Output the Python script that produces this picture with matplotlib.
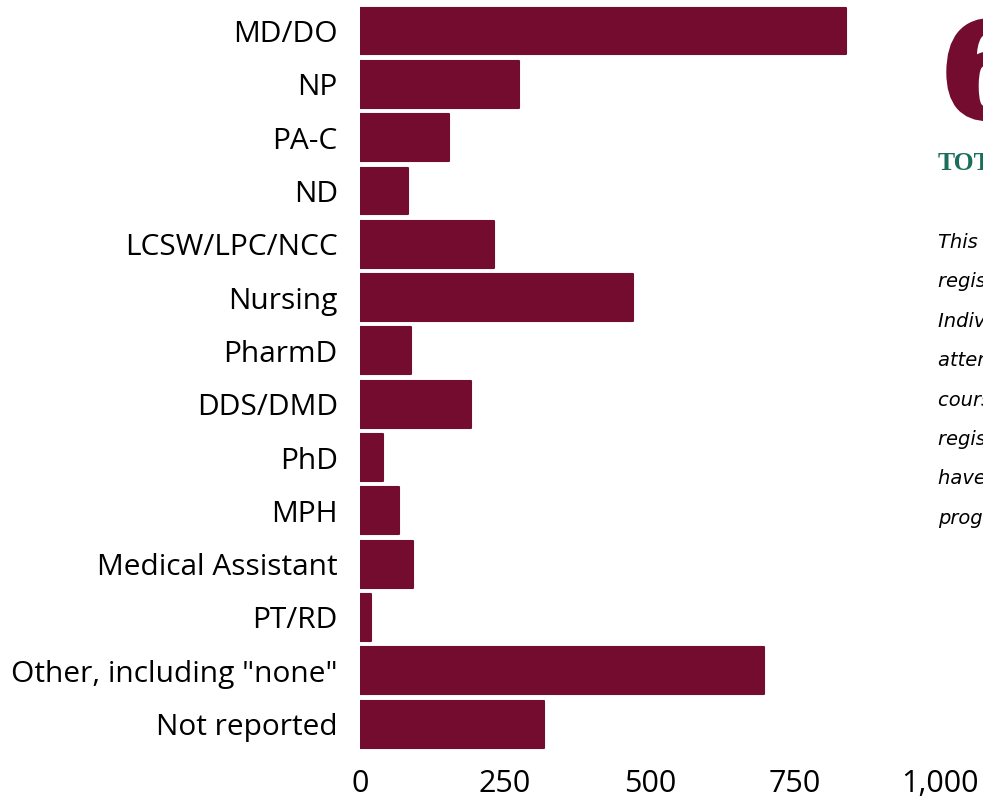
import matplotlib
matplotlib.use("Agg")
import matplotlib.pyplot as plt
import matplotlib.patheffects as pe
from matplotlib.ticker import FuncFormatter

# données
categories = ["MD/DO", "NP", "PA-C", "ND", "LCSW/LPC/NCC", "Nursing", "PharmD",
              "DDS/DMD", "PhD", "MPH", "Medical Assistant", "PT/RD",
              'Other, including "none"', "Not reported"]
counts = [838, 274, 153, 83, 231, 471, 88, 191, 39, 67, 92, 19, 697, 317]
xticks = [0, 250, 500, 750, 1000]

big_number = "6"
total_label = "TOTAL"
note_lines = ["This chart shows", "registrants by", "Individuals who",
              "attended the", "course and", "registered may",
              "have completed", "programs."]

maroon = "#730c2e"
green = "#1b6e5c"

plt.rcParams['font.family'] = ['Open Sans', 'DejaVu Sans']

fig = plt.figure(figsize=(9.83, 7.97), dpi=100)
ax = fig.add_axes([0.3662, 0.058, 0.59, 0.9365])

ypos = list(range(len(categories)))
ax.barh(ypos, counts, height=0.88, color=maroon, edgecolor=maroon,
        linewidth=1.5, joinstyle="round")
ax.set_ylim(len(categories) - 0.5, -0.5)
ax.set_xlim(0, 1000)
ax.set_yticks(ypos)
ax.set_yticklabels(categories)
ax.set_xticks(xticks)
ax.xaxis.set_major_formatter(FuncFormatter(lambda v, p: f"{int(v):,}"))
ax.tick_params(axis="both", length=0, colors="black")
ax.tick_params(axis="y", pad=16, labelsize=21.5)
ax.tick_params(axis="x", pad=13, labelsize=22)
for s in ax.spines.values():
    s.set_visible(False)

# textes de la partie droite (coupés par le bord de l'image)
fig.text(0.958, 1 - 116 / 797, big_number, color=maroon, fontsize=92,
         fontweight="bold", family="DejaVu Serif", va="baseline", ha="left",
         path_effects=[pe.withStroke(linewidth=5, foreground=maroon)])
fig.text(0.954, 1 - 170 / 797, total_label, color=green, fontsize=18.5,
         fontweight="bold", family="Liberation Serif", va="baseline", ha="left")
for i, line in enumerate(note_lines):
    fig.text(0.954, 1 - (248 + 39.4 * i) / 797, line, fontsize=14,
             style="italic", family="DejaVu Sans", va="baseline", ha="left")

fig.savefig("out.png", dpi=100)
